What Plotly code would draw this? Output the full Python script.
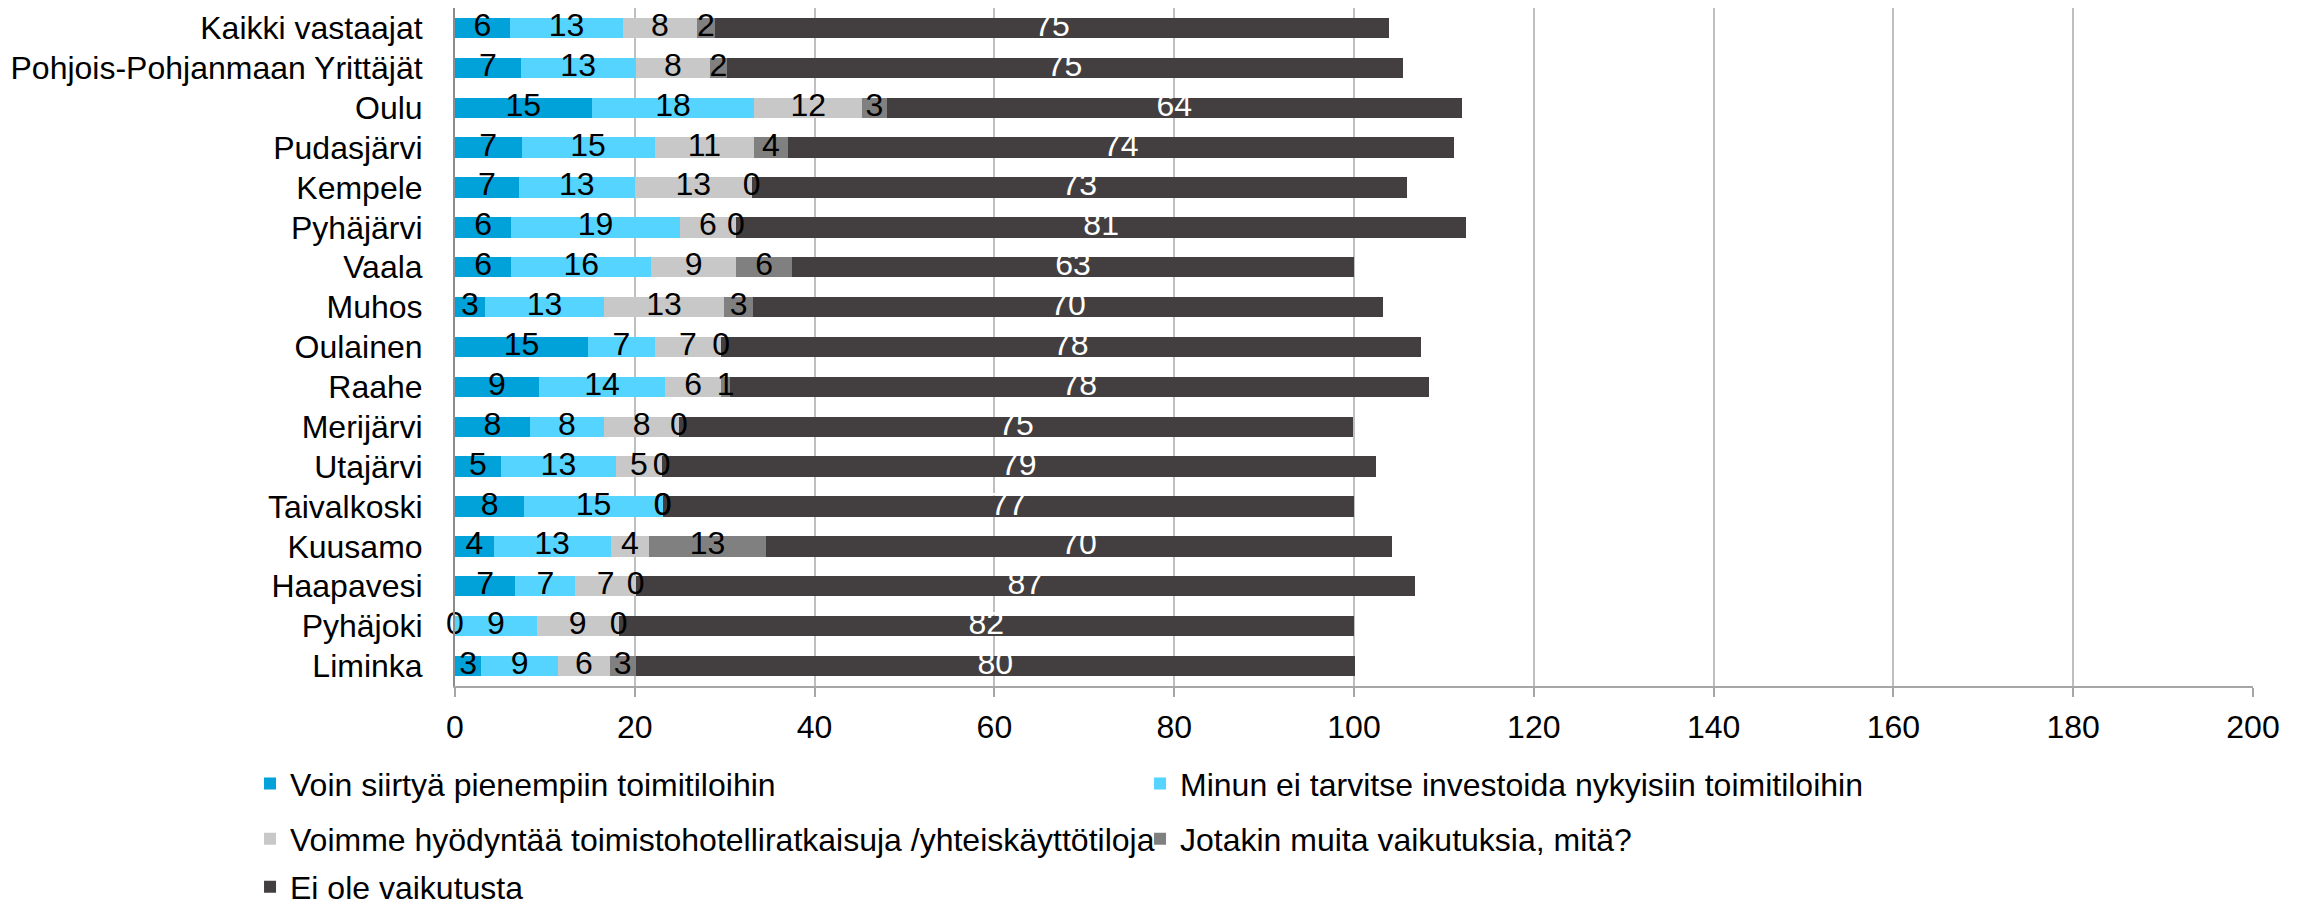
import math
import plotly.graph_objects as go

categories = ["Kaikki vastaajat", "Pohjois-Pohjanmaan Yrittäjät", "Oulu", "Pudasjärvi",
              "Kempele", "Pyhäjärvi", "Vaala", "Muhos", "Oulainen", "Raahe", "Merijärvi",
              "Utajärvi", "Taivalkoski", "Kuusamo", "Haapavesi", "Pyhäjoki", "Liminka"]

series_names = ["Voin siirtyä pienempiin toimitiloihin",
                "Minun ei tarvitse investoida nykyisiin toimitiloihin",
                "Voimme hyödyntää toimistohotelliratkaisuja /yhteiskäyttötiloja",
                "Jotakin muita vaikutuksia, mitä?",
                "Ei ole vaikutusta"]

siirtya = [6.1, 7.3, 15.2, 7.4, 7.1, 6.25, 6.25, 3.3, 14.8, 9.3, 8.3, 5.1, 7.7, 4.3, 6.7, 0.0, 2.9]
ei_investoida = [12.6, 12.8, 18.1, 14.8, 12.9, 18.75, 15.6, 13.3, 7.4, 14.1, 8.3, 12.8, 15.4, 13.0, 6.7, 9.1, 8.6]
toimistohotelli = [8.2, 8.3, 12.0, 11.1, 13.0, 6.25, 9.4, 13.3, 7.4, 6.2, 8.3, 5.1, 0.0, 4.3, 6.7, 9.1, 5.7]
muita = [2.0, 1.8, 2.7, 3.7, 0.0, 0.0, 6.25, 3.3, 0.0, 1.0, 0.0, 0.0, 0.0, 13.0, 0.0, 0.0, 2.9]
ei_vaikutusta = [75.0, 75.2, 64.0, 74.1, 72.9, 81.25, 62.5, 70.0, 77.8, 77.7, 75.0, 79.4, 76.9, 69.6, 86.7, 81.8, 80.0]

series_values = [siirtya, ei_investoida, toimistohotelli, muita, ei_vaikutusta]
colors = ["#00A2D9", "#55D4FF", "#C8C8C8", "#808080", "#433F40"]
label_colors = ["#000000", "#000000", "#000000", "#000000", "#FFFFFF"]
legend_ids = ["legend", "legend", "legend2", "legend2", "legend3"]

FONT = "Liberation Sans, Arial, sans-serif"
FS = 32


def half_up(v):
    return str(int(math.floor(v + 0.5)))


fig = go.Figure()

for name, vals, col, lg in zip(series_names, series_values, colors, legend_ids):
    fig.add_trace(go.Bar(
        y=categories, x=vals, name=name, orientation="h",
        marker=dict(color=col, line=dict(width=0)),
        legend=lg, hoverinfo="x+name",
    ))

# data labels centred in each segment (derived from the stacked data)
base = [0.0] * len(categories)
for vals, lc in zip(series_values, label_colors):
    mids = [b + v / 2 for b, v in zip(base, vals)]
    fig.add_trace(go.Scatter(
        y=categories, x=mids, mode="text",
        text=[half_up(v) for v in vals],
        textposition="middle center",
        textfont=dict(family=FONT, size=FS, color=lc),
        showlegend=False, hoverinfo="skip", cliponaxis=False,
    ))
    base = [b + v for b, v in zip(base, vals)]

legend_common = dict(
    orientation="h", xanchor="left", yanchor="middle", traceorder="normal",
    font=dict(family=FONT, size=FS, color="#000000"),
    entrywidth=845, entrywidthmode="pixels",
    bgcolor="rgba(0,0,0,0)", borderwidth=0,
)

fig.update_layout(
    width=2307, height=902,
    barmode="stack", bargap=0.49,
    plot_bgcolor="#FFFFFF", paper_bgcolor="#FFFFFF",
    font=dict(family=FONT, size=FS, color="#000000"),
    margin=dict(l=447, r=62, t=0, b=224, autoexpand=False),
    legend=dict(x=-0.114, y=-0.144, **legend_common),
    legend2=dict(x=-0.114, y=-0.2257, **legend_common),
    legend3=dict(x=-0.114, y=-0.2964, **legend_common),
    xaxis=dict(
        range=[0, 200], dtick=20, tick0=0,
        showgrid=True, gridcolor="#BFBFBF", gridwidth=2,
        zeroline=False,
        showline=True, linecolor="#A6A6A6", linewidth=2,
        ticks="outside", ticklen=9, tickwidth=2, tickcolor="#A6A6A6",
        tickfont=dict(family=FONT, size=FS, color="#000000"),
        ticklabelstandoff=3,
    ),
    yaxis=dict(
        categoryorder="array", categoryarray=categories,
        range=[len(categories) - 0.5, -0.5],
        showgrid=False, zeroline=False,
        showline=True, linecolor="#8C8C8C", linewidth=2,
        ticks="", ticklabelstandoff=24,
        tickfont=dict(family=FONT, size=FS, color="#000000"),
    ),
)

fig.write_html("out.html")
